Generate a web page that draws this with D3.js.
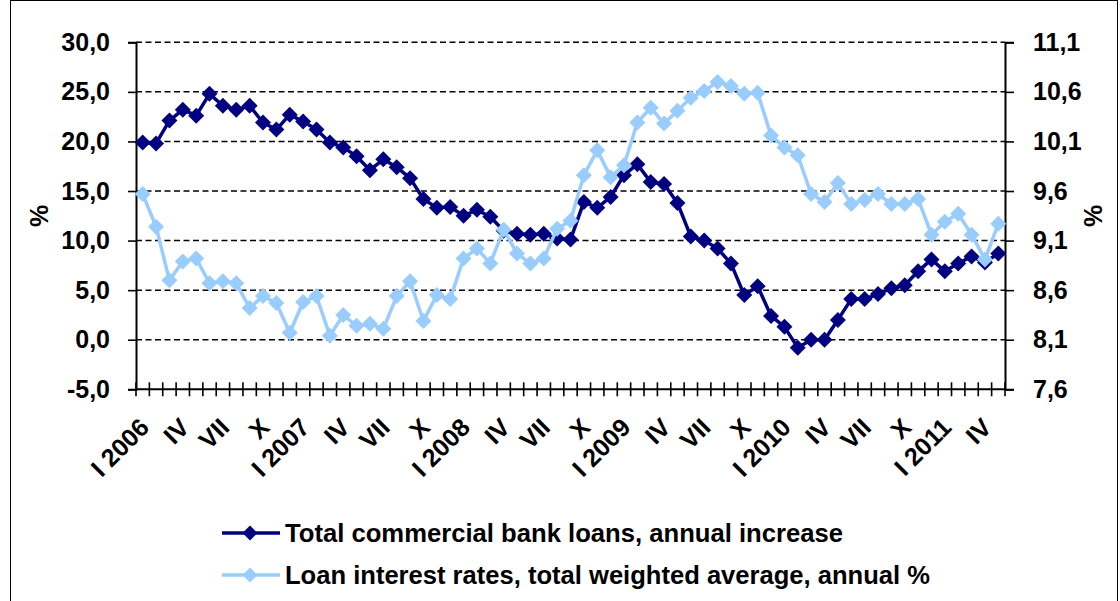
<!DOCTYPE html>
<html>
<head>
<meta charset="utf-8">
<script src="https://cdn.jsdelivr.net/npm/d3@7"></script>
<style>
  html, body { margin: 0; padding: 0; background: #fff; }
  svg { display: block; font-family: "Liberation Sans", Arial, sans-serif; font-weight: bold; }
</style>
</head>
<body>
<svg id="chart" width="1120" height="601"></svg>
<script>
// Monthly observations, January 2006 – May 2011
const romanMonths = ["I","II","III","IV","V","VI","VII","VIII","IX","X","XI","XII"];
const years = [2006, 2007, 2008, 2009, 2010, 2011];

// Total commercial bank loans, annual increase (%), left axis
const loanGrowth = [
  19.9, 19.8, 22.1, 23.2, 22.6, 24.8, 23.6, 23.2, 23.6, 21.9, 21.2, 22.7,
  22.0, 21.2, 19.9, 19.4, 18.5, 17.1, 18.2, 17.4, 16.3, 14.2, 13.3, 13.4,
  12.5, 13.1, 12.4, 11.0, 10.7, 10.6, 10.7, 10.2, 10.1, 13.9, 13.3, 14.4,
  16.6, 17.7, 15.9, 15.7, 13.8, 10.4, 10.0, 9.2, 7.7, 4.5, 5.4, 2.4,
  1.3, -0.8, 0.0, 0.0, 2.0, 4.1, 4.1, 4.6, 5.2, 5.5, 6.9, 8.1,
  6.9, 7.7, 8.4, 7.8, 8.7
];

// Loan interest rates, total weighted average, annual % (right axis)
const loanRates = [
  9.57, 9.24, 8.70, 8.89, 8.92, 8.67, 8.69, 8.67, 8.42, 8.54, 8.47, 8.17,
  8.48, 8.54, 8.14, 8.35, 8.24, 8.26, 8.21, 8.54, 8.69, 8.29, 8.55, 8.51,
  8.92, 9.02, 8.87, 9.21, 8.97, 8.87, 8.92, 9.22, 9.30, 9.76, 10.01, 9.74,
  9.86, 10.29, 10.44, 10.28, 10.41, 10.54, 10.61, 10.70, 10.66, 10.58, 10.59, 10.16,
  10.04, 9.96, 9.57, 9.49, 9.68, 9.47, 9.51, 9.57, 9.47, 9.47, 9.52, 9.16,
  9.29, 9.37, 9.16, 8.91, 9.27
];

// Axis tick values and labels
const leftTicks = [-5, 0, 5, 10, 15, 20, 25, 30];
const rightTicks = [7.6, 8.1, 8.6, 9.1, 9.6, 10.1, 10.6, 11.1];
const xTickLabels = [
  "I 2006", "IV", "VII", "X",
  "I 2007", "IV", "VII", "X",
  "I 2008", "IV", "VII", "X",
  "I 2009", "IV", "VII", "X",
  "I 2010", "IV", "VII", "X",
  "I 2011", "IV"
];

const seriesNames = [
  "Total commercial bank loans, annual increase",
  "Loan interest rates, total weighted average, annual %"
];
const seriesColors = ["#000080", "#99CCFF"];

// Category keys for each month
const months = [];
years.forEach(y => romanMonths.forEach(m => months.push(m + " " + y)));
const categories = months.slice(0, loanGrowth.length);

const svg = d3.select("#chart");
const plot = { left: 136, right: 1005, top: 42.3, bottom: 389.3 };
const fontSize = 25;

// outer frame
svg.append("rect")
  .attr("x", 10.5).attr("y", 0.5)
  .attr("width", 1107).attr("height", 640)
  .attr("fill", "none").attr("stroke", "#000").attr("stroke-width", 1);

const x = d3.scaleBand().domain(categories).range([plot.left, plot.right]).padding(0);
const yL = d3.scaleLinear().domain([-5, 30]).range([plot.bottom, plot.top]);
const yR = d3.scaleLinear().domain([7.6, 11.1]).range([plot.bottom, plot.top]);
const cx = d => x(d) + x.bandwidth() / 2;

// dashed gridlines
svg.append("g").selectAll("line")
  .data(leftTicks.filter(t => t > -5))
  .join("line")
  .attr("x1", plot.left).attr("x2", plot.right)
  .attr("y1", d => yL(d)).attr("y2", d => yL(d))
  .attr("stroke", "#000").attr("stroke-width", 1.5)
  .attr("stroke-dasharray", "6,3.5");

// left axis
const leftAxis = d3.axisLeft(yL).tickValues(leftTicks).tickSize(8).tickPadding(18)
  .tickFormat(d => d3.format(".1f")(d).replace(".", ",").replace("−", "-"));
const gL = svg.append("g").attr("transform", `translate(${plot.left},0)`).call(leftAxis);

// right axis
const rightAxis = d3.axisRight(yR).tickValues(rightTicks).tickSize(9).tickPadding(19)
  .tickFormat(d => d3.format(".1f")(d).replace(".", ","));
const gR = svg.append("g").attr("transform", `translate(${plot.right},0)`).call(rightAxis);

[gL, gR].forEach(g => {
  g.select(".domain").attr("stroke", "#000").attr("stroke-width", 2);
  g.selectAll(".tick line").attr("stroke", "#000").attr("stroke-width", 1.6);
  g.selectAll(".tick text")
    .attr("fill", "#000")
    .style("font-size", fontSize + "px")
    .style("font-weight", "bold")
    .style("font-family", "'Liberation Sans', Arial, sans-serif");
});

// bottom axis: cross-style ticks at every month boundary
svg.append("line")
  .attr("x1", plot.left).attr("x2", plot.right)
  .attr("y1", plot.bottom).attr("y2", plot.bottom)
  .attr("stroke", "#000").attr("stroke-width", 2);
const boundaries = categories.map(c => x(c)).concat([plot.right]);
svg.append("g").selectAll("line")
  .data(boundaries)
  .join("line")
  .attr("x1", d => d).attr("x2", d => d)
  .attr("y1", plot.bottom - 7).attr("y2", plot.bottom + 7)
  .attr("stroke", "#000").attr("stroke-width", 1.6);

// rotated category labels every third month
const labelled = categories.filter((c, i) => i % 3 === 0);
svg.append("g").selectAll("text")
  .data(labelled.map((c, i) => ({ c, label: xTickLabels[i] })))
  .join("text")
  .attr("transform", d => `translate(${cx(d.c) + 8},${429}) rotate(-45)`)
  .attr("text-anchor", "end")
  .style("font-size", fontSize + "px")
  .text(d => d.label);

// axis titles
svg.append("text")
  .attr("transform", `translate(48,216) rotate(-90)`)
  .attr("text-anchor", "middle")
  .style("font-size", fontSize + "px")
  .text("%");
svg.append("text")
  .attr("transform", `translate(1102,216) rotate(-90)`)
  .attr("text-anchor", "middle")
  .style("font-size", fontSize + "px")
  .text("%");

const diamond = r => `M0,${-r}L${r},0L0,${r}L${-r},0Z`;

function drawSeries(values, scale, color) {
  const pts = categories.map((c, i) => [cx(c), scale(values[i])]);
  svg.append("path")
    .attr("d", d3.line()(pts))
    .attr("fill", "none")
    .attr("stroke", color)
    .attr("stroke-width", 3.5)
    .attr("stroke-linejoin", "round");
  svg.append("g").selectAll("path")
    .data(pts)
    .join("path")
    .attr("transform", d => `translate(${d[0]},${d[1]})`)
    .attr("d", diamond(8))
    .attr("fill", color);
}

drawSeries(loanGrowth, yL, seriesColors[0]);
drawSeries(loanRates, yR, seriesColors[1]);

// legend
const legend = svg.append("g");
const legendRows = [533, 575];
const legendWidths = [558, 645];
seriesNames.forEach((name, i) => {
  const g = legend.append("g").attr("transform", `translate(0,${legendRows[i]})`);
  g.append("line")
    .attr("x1", 222).attr("x2", 280).attr("y1", 0).attr("y2", 0)
    .attr("stroke", seriesColors[i]).attr("stroke-width", 3.5);
  g.append("path")
    .attr("transform", "translate(250,0)")
    .attr("d", diamond(7.5))
    .attr("fill", seriesColors[i]);
  g.append("text")
    .attr("x", 285).attr("y", 9)
    .attr("textLength", legendWidths[i])
    .attr("lengthAdjust", "spacingAndGlyphs")
    .style("font-size", fontSize + "px")
    .text(name);
});
</script>
</body>
</html>
